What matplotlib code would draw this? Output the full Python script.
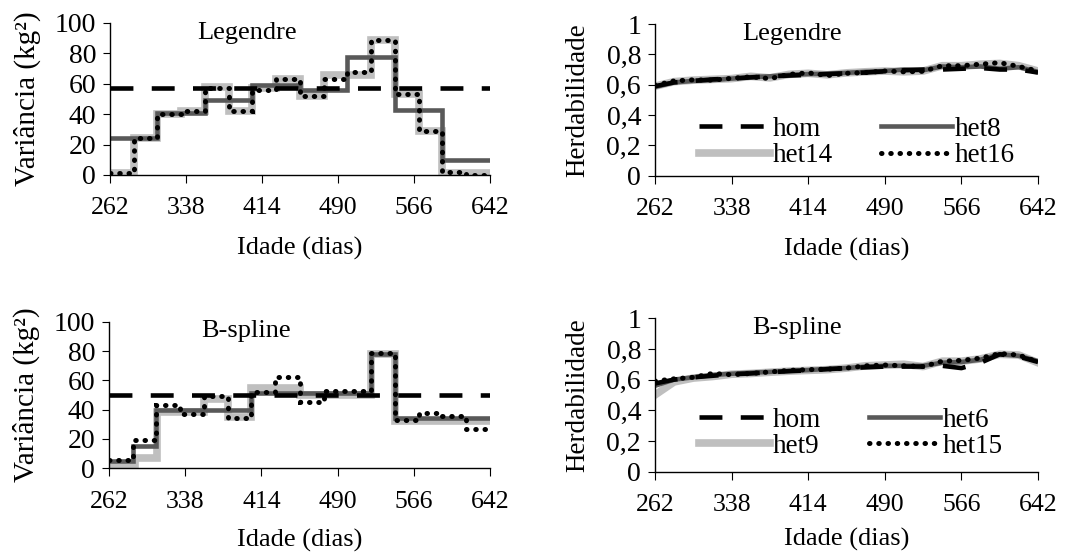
import matplotlib
matplotlib.use("Agg")
import matplotlib.pyplot as plt

plt.rcParams['font.family'] = ['Liberation Serif', 'DejaVu Serif']

# ---- data ----
x_ticks = [262, 338, 414, 490, 566, 642]
var_ticks = [0, 20, 40, 60, 80, 100]
var_tick_labels = ['0', '20', '40', '60', '80', '100']
h_ticks = [0, 0.2, 0.4, 0.6, 0.8, 1.0]
h_tick_labels = ['0', '0,2', '0,4', '0,6', '0,8', '1']

# Legendre - residual variance (step classes)
leg_hom_edges = [262, 642]
leg_hom = [57]
leg_het8_edges = [262, 309, 357, 404, 452, 499, 547, 594, 642]
leg_het8 = [24, 41, 49, 59, 56, 77.5, 43, 10]
leg_het14_edges = [262, 286, 309, 333, 357, 381, 404, 428, 452, 476, 523, 547, 571, 594, 642]
leg_het14 = [1, 24, 40, 42, 58, 42, 57, 63, 52, 66, 89, 53, 29, 1]
leg_het16_edges = [262, 286, 309, 333, 357, 381, 404, 428, 452, 476, 499, 523, 547, 571, 594, 618, 642]
leg_het16 = [1, 24, 40, 42, 57, 42, 56, 63, 52, 63, 68, 89, 53, 29, 2, 0]

# B-spline - residual variance (step classes)
bsp_hom_edges = [262, 642]
bsp_hom = [50]
bsp_het6_edges = [262, 286, 309, 404, 523, 547, 642]
bsp_het6 = [5, 15, 39.5, 51.5, 78, 34]
bsp_het9_edges = [262, 288, 310, 357, 381, 404, 452, 523, 547, 642]
bsp_het9 = [1, 7, 38.5, 47, 35, 55, 50, 78, 32]
bsp_het15_edges = [262, 286, 309, 333, 357, 381, 404, 428, 452, 476, 523, 547, 571, 594, 618, 642]
bsp_het15 = [6, 19, 43, 37, 49, 34.5, 52, 62.5, 45, 52.5, 78.5, 33, 37.5, 35.5, 26.5]

# heritability curves
ages = [262, 281, 300, 319, 338, 357, 376, 395, 414, 433, 452,
        471, 490, 509, 528, 547, 566, 585, 604, 623, 642]
h_leg_hom = [0.59, 0.615, 0.625, 0.635, 0.64, 0.648, 0.655, 0.66, 0.665, 0.67, 0.675,
             0.68, 0.688, 0.695, 0.70, 0.70, 0.705, 0.71, 0.70, 0.70, 0.68]
h_leg_het8 = [0.585, 0.615, 0.625, 0.63, 0.64, 0.65, 0.655, 0.665, 0.67, 0.672, 0.678,
              0.685, 0.69, 0.70, 0.695, 0.72, 0.715, 0.72, 0.705, 0.715, 0.685]
h_leg_het14 = [0.59, 0.62, 0.63, 0.635, 0.64, 0.655, 0.645, 0.668, 0.675, 0.665, 0.678,
               0.685, 0.69, 0.685, 0.69, 0.725, 0.725, 0.735, 0.74, 0.725, 0.69]
h_leg_het16 = [0.595, 0.625, 0.632, 0.63, 0.642, 0.652, 0.64, 0.668, 0.678, 0.66, 0.675,
               0.68, 0.69, 0.685, 0.688, 0.725, 0.725, 0.735, 0.745, 0.72, 0.69]

h_bsp_hom = [0.575, 0.60, 0.615, 0.625, 0.635, 0.64, 0.648, 0.655, 0.66, 0.668, 0.675,
             0.68, 0.685, 0.685, 0.685, 0.69, 0.675, 0.71, 0.765, 0.75, 0.715]
h_bsp_het6 = [0.56, 0.60, 0.615, 0.63, 0.638, 0.645, 0.65, 0.657, 0.662, 0.67, 0.675,
              0.685, 0.69, 0.69, 0.69, 0.71, 0.715, 0.73, 0.765, 0.755, 0.72]
h_bsp_het9 = [0.50, 0.585, 0.61, 0.62, 0.635, 0.64, 0.648, 0.655, 0.66, 0.665, 0.675,
              0.69, 0.695, 0.70, 0.685, 0.72, 0.72, 0.735, 0.765, 0.76, 0.71]
h_bsp_het15 = [0.59, 0.605, 0.615, 0.64, 0.632, 0.64, 0.65, 0.66, 0.665, 0.668, 0.675,
               0.69, 0.695, 0.69, 0.685, 0.72, 0.725, 0.74, 0.77, 0.76, 0.715]

DARK = '#595959'
LIGHT = '#bfbfbf'
DASH = (0, (5, 4))
DOT = (0, (0.1, 1.75))
FS = 18.5


def style_axes(ax, ylim, yticks, ylabels, ylab, ylabsize, ylabpad, xlabpad):
    for s in ['top', 'right']:
        ax.spines[s].set_visible(False)
    for s in ['left', 'bottom']:
        ax.spines[s].set_linewidth(1.0)
    ax.set_xlim(262, 642)
    ax.set_ylim(*ylim)
    ax.set_xticks(x_ticks)
    ax.set_xticklabels([str(t) for t in x_ticks])
    ax.set_yticks(yticks)
    ax.set_yticklabels(ylabels)
    ax.tick_params(axis='x', direction='out', length=6, pad=10, labelsize=FS)
    ax.tick_params(axis='y', direction='out', length=5, pad=5, labelsize=20)
    ax.set_xlabel('Idade (dias)', fontsize=19, labelpad=xlabpad)
    ax.set_ylabel(ylab, fontsize=ylabsize, labelpad=ylabpad)


def var_panel(ax, title, series, xlabpad):
    (he, hv), (d_e, dv), (le, lv), (pe, pv) = series
    ax.stairs(hv, he, baseline=None, color='black', lw=3.3, linestyle=DASH, zorder=3)
    ax.stairs(lv, le, baseline=None, color=LIGHT, lw=5.5, zorder=1)
    ax.stairs(dv, d_e, baseline=None, color=DARK, lw=3.3, zorder=2)
    ax.stairs(pv, pe, baseline=None, color='black', lw=3.6, linestyle=DOT,
              capstyle='round', zorder=4)
    style_axes(ax, (0, 100), var_ticks, var_tick_labels, 'Variância (kg²)',
               21, 10, xlabpad)
    ax.text(0.36, 0.935, title, transform=ax.transAxes, ha='center', va='center',
            fontsize=19)


def h_panel(ax, title, hom, dark, light, dots, names, tx, legy, xlabpad):
    l1, = ax.plot(ages, hom, color='black', lw=3.3, linestyle=DASH, zorder=3, label=names[0])
    l3, = ax.plot(ages, light, color=LIGHT, lw=5.5, zorder=1, label=names[2])
    l2, = ax.plot(ages, dark, color=DARK, lw=3.3, zorder=2, label=names[1])
    l4, = ax.plot(ages, dots, color='black', lw=3.6, linestyle=DOT,
                  dash_capstyle='round', zorder=4, label=names[3])
    style_axes(ax, (0, 1), h_ticks, h_tick_labels, 'Herdabilidade', 19.5, 12, xlabpad)
    ax.text(tx, 0.935, title, transform=ax.transAxes, ha='center', va='center',
            fontsize=19)
    ax.legend(handles=[l1, l3, l2, l4], ncol=2, frameon=False, fontsize=19.5,
              loc='lower left', bbox_to_anchor=(0.08, legy), borderpad=0,
              handlelength=2.6, handletextpad=0.1, columnspacing=1.8,
              labelspacing=0.05)


fig = plt.figure(figsize=(10.69, 5.52), dpi=100)
ax1 = fig.add_axes([0.1029, 0.683, 0.3555, 0.2754])
ax2 = fig.add_axes([0.6127, 0.6817, 0.3583, 0.2748])
ax3 = fig.add_axes([0.1020, 0.1516, 0.3564, 0.2656])
ax4 = fig.add_axes([0.6127, 0.1455, 0.3583, 0.2780])

var_panel(ax1, 'Legendre', [(leg_hom_edges, leg_hom), (leg_het8_edges, leg_het8),
                            (leg_het14_edges, leg_het14), (leg_het16_edges, leg_het16)], 13)
var_panel(ax3, 'B-spline', [(bsp_hom_edges, bsp_hom), (bsp_het6_edges, bsp_het6),
                            (bsp_het9_edges, bsp_het9), (bsp_het15_edges, bsp_het15)], 12)
h_panel(ax2, 'Legendre', h_leg_hom, h_leg_het8, h_leg_het14, h_leg_het16,
        ['hom', 'het8', 'het14', 'het16'], 0.358, -0.04, 13)
h_panel(ax4, 'B-spline', h_bsp_hom, h_bsp_het6, h_bsp_het9, h_bsp_het15,
        ['hom', 'het6', 'het9', 'het15'], 0.37, -0.005, 9)

fig.savefig('out.png', dpi=100)
